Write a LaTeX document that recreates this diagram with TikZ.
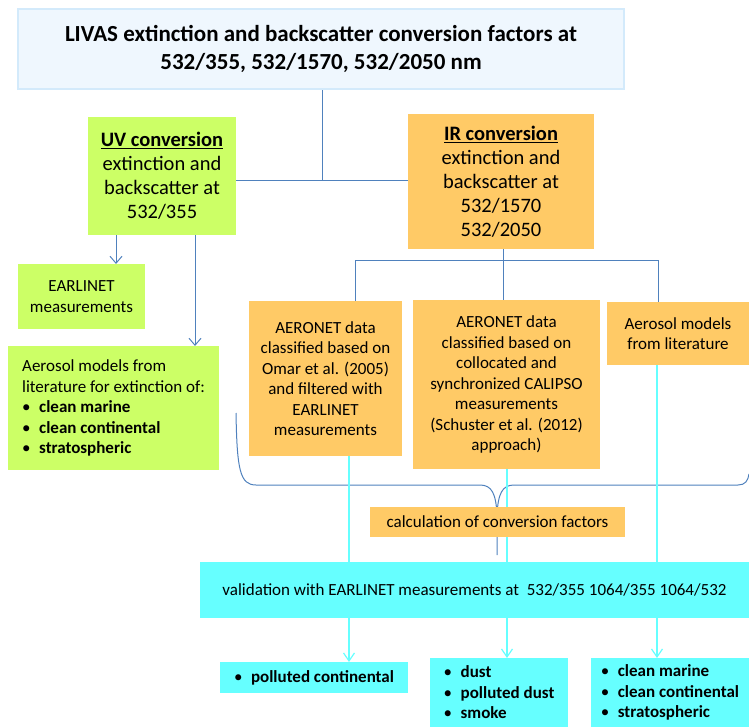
\documentclass[tikz,border=0pt]{standalone}
\usepackage{fontspec}
\setmainfont{Carlito}
\usetikzlibrary{arrows.meta}
\definecolor{topfill}{HTML}{EFF7FE}
\definecolor{topline}{HTML}{D3EAFB}
\definecolor{uvgreen}{HTML}{CCFF66}
\definecolor{irorange}{HTML}{FFCA66}
\definecolor{valcyan}{HTML}{66FFFF}
\definecolor{conblue}{HTML}{4F81BD}
\definecolor{concyan}{HTML}{66FFFF}
\pgfdeclarelayer{bg}
\pgfsetlayers{bg,main}
\newcommand\bitem[1]{\makebox[17pt][l]{\textbullet}\textbf{#1}}
\begin{document}
\begin{tikzpicture}[x=1pt,y=-1pt,
  base/.style={inner sep=0pt, outer sep=0pt, align=center, font=\fontsize{17}{20.5}\selectfont},
  topbox/.style={base, fill=topfill, draw=topline, line width=2pt, font=\fontsize{23}{27.5}\selectfont\bfseries},
  greenbox/.style={base, fill=uvgreen},
  orangebox/.style={base, fill=irorange},
  cyanbox/.style={base, fill=valcyan},
  bigtext/.style={font=\fontsize{20.5}{24}\selectfont},
  con/.style={draw=conblue, line width=1pt},
  arr/.style={con, -{Straight Barb[length=7pt,width=12pt]}},
  ccon/.style={draw=concyan, line width=1.2pt},
  carr/.style={ccon, -{Straight Barb[length=8pt,width=11pt]}}
]
\useasboundingbox (0,0) rectangle (749,727);

% boxes
\node[topbox, minimum width=606pt, minimum height=80pt] (top) at (321,49)
  {LIVAS extinction and backscatter conversion factors at\\532/355, 532/1570, 532/2050 nm};
\node[greenbox, bigtext, minimum width=148pt, minimum height=118pt] (uv) at (162,176)
  {\underline{\textbf{UV conversion}}\\extinction and\\backscatter at\\532/355};
\node[orangebox, bigtext, minimum width=186pt, minimum height=135pt] (ir) at (501,181.5)
  {\underline{\textbf{IR conversion}}\\extinction and\\backscatter at\\532/1570\\532/2050};
\node[greenbox, minimum width=127pt, minimum height=65pt] (earl) at (81.5,296.5)
  {EARLINET\\measurements};
\node[greenbox, minimum width=211pt, minimum height=124pt, align=left] (aer) at (113.5,408)
  {Aerosol models from\\literature for extinction of:\\\bitem{clean marine}\\\bitem{clean continental}\\\bitem{stratospheric}};
\node[orangebox, minimum width=153pt, minimum height=155pt] (b1) at (325.5,378.5)
  {AERONET data\\classified based on\\Omar et al. (2005)\\and filtered with\\EARLINET\\measurements};
\node[orangebox, minimum width=187pt, minimum height=169pt] (b2) at (506.5,384.5)
  {AERONET data\\classified based on\\collocated and\\synchronized CALIPSO\\measurements\\(Schuster et al. (2012)\\approach)};
\node[orangebox, minimum width=142pt, minimum height=63pt] (b3) at (678,333.5)
  {Aerosol models\\from literature};
\node[orangebox, minimum width=255pt, minimum height=30pt] (calc) at (497.5,522)
  {calculation of conversion factors};
\node[cyanbox, minimum width=549pt, minimum height=56pt] (val) at (474.5,590)
  {validation with EARLINET measurements at\ \ 532/355 1064/355 1064/532};
\node[cyanbox, minimum width=188pt, minimum height=31pt, align=left] (ra) at (314,677.5)
  {\bitem{polluted continental}};
\node[cyanbox, minimum width=138pt, minimum height=69pt, align=left] (rb) at (499,692.5)
  {\bitem{dust}\\\bitem{polluted dust}\\\bitem{smoke}};
\node[cyanbox, minimum width=158pt, minimum height=69pt, align=left] (rc) at (670,692.5)
  {\bitem{clean marine}\\\bitem{clean continental}\\\bitem{stratospheric}};

% helper coordinates
\coordinate (j) at (322,181);
\coordinate (xa) at (116,0);
\coordinate (xb) at (195,0);
\coordinate (h) at (503,261);
\coordinate (x1) at (355,0);
\coordinate (x3) at (658,0);
\coordinate (c1) at (349,0);
\coordinate (c2) at (507,0);
\coordinate (c3) at (657,0);

\begin{pgfonlayer}{bg}
  \draw[con] (top.south -| j) -- (j);
  \draw[con] (uv.east |- j) -- (ir.west |- j);
  \draw[arr] (uv.south -| xa) -- (earl.north -| xa);
  \draw[arr] (uv.south -| xb) -- (aer.north -| xb);
  \draw[con] (ir.south -| h) -- (h);
  \draw[con] (b1.north -| x1) -- (x1 |- h) -- (x3 |- h) -- (b3.north -| x3);
  \draw[con] (h) -- (b2.north -| h);
  % brace
  \draw[con] (236,413) .. controls (237,470) and (240,485) .. (256,485) -- (480,485)
     .. controls (492,485) and (496,494) .. (497,515) -- (497,555);
  \draw[con] (497,515) .. controls (498,494) and (502,485) .. (514,485) -- (738,485)
     .. controls (745,485) and (748,481) .. (749,474);
  % cyan lines
  \draw[ccon] (b1.south -| c1) -- (val.north -| c1);
  \draw[ccon] (b2.south -| c2) -- (val.north -| c2);
  \draw[ccon] (b3.south -| c3) -- (val.north -| c3);
  \draw[carr] (val.south -| c1) -- (ra.north -| c1);
  \draw[carr] (val.south -| c2) -- (rb.north -| c2);
  \draw[carr] (val.south -| c3) -- (rc.north -| c3);
\end{pgfonlayer}
\end{tikzpicture}
\end{document}
